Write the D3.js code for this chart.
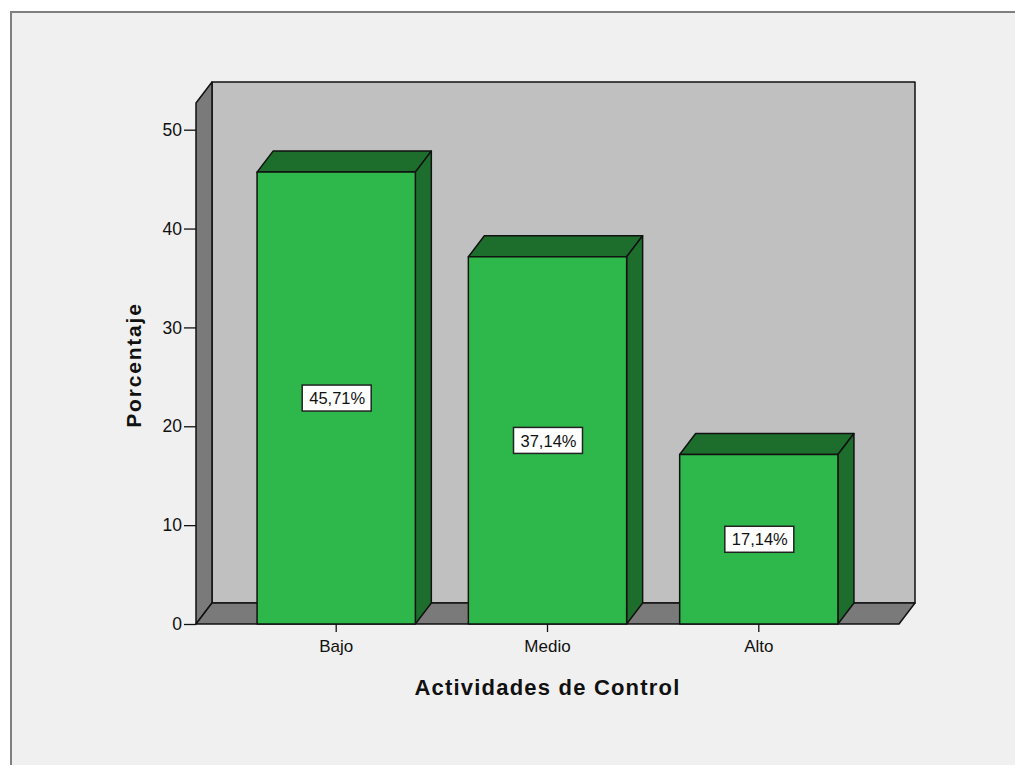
<!DOCTYPE html>
<html>
<head>
<meta charset="utf-8">
<script src="https://cdn.jsdelivr.net/npm/d3@7"></script>
<style>
  body { margin: 0; background: #ffffff; }
  svg text { font-family: "Liberation Sans", Arial, sans-serif; }
</style>
</head>
<body>
<div id="chart"></div>
<script>
// data
var categories = ["Bajo", "Medio", "Alto"];
var percents = [45.71, 37.14, 17.14];
var labels = ["45,71%", "37,14%", "17,14%"];
var yTicks = [0, 10, 20, 30, 40, 50];

var width = 1015, height = 765;
var depthX = 16, depthY = -21;   // 3d offset of the box

var svg = d3.select("#chart").append("svg")
    .attr("width", width)
    .attr("height", height);

// outer frame
svg.append("rect")
    .attr("x", 11).attr("y", 12)
    .attr("width", width + 20).attr("height", height + 20)
    .style("fill", "#f0f0f0")
    .style("stroke", "#7f7f7f")
    .style("stroke-width", 2);

var x = d3.scaleBand()
    .domain(categories)
    .range([196, 899])
    .paddingInner(0.251)
    .paddingOuter(0.289);

var y = d3.scaleLinear()
    .domain([0, 52.7])
    .range([624, 103]);

var x0 = x.range()[0], x1 = x.range()[1];
var yb = y(0), yt = y(y.domain()[1]);

function styled(sel, fill) {
  return sel.style("fill", fill)
    .style("stroke", "#111")
    .style("stroke-width", 1.5)
    .style("stroke-linejoin", "round");
}

// back wall
styled(svg.append("rect")
    .attr("x", x0 + depthX).attr("y", yt + depthY)
    .attr("width", x1 - x0).attr("height", yb - yt), "#c0c0c0");

// left side wall
styled(svg.append("path")
    .attr("d", d3.line()([[x0, yb], [x0, yt], [x0 + depthX, yt + depthY],
                          [x0 + depthX, yb + depthY]]) + "Z"), "#7a7a7a");

// floor
styled(svg.append("path")
    .attr("d", d3.line()([[x0, yb], [x1, yb], [x1 + depthX, yb + depthY],
                          [x0 + depthX, yb + depthY]]) + "Z"), "#7a7a7a");

// bars
var bars = svg.selectAll(".bar")
    .data(percents)
    .enter().append("g")
    .attr("class", "bar");

bars.each(function(d, i) {
  var g = d3.select(this);
  var bx = x(categories[i]), bw = x.bandwidth(), top = y(d);
  // top face
  styled(g.append("path")
      .attr("d", d3.line()([[bx, top], [bx + bw, top], [bx + bw + depthX, top + depthY],
                            [bx + depthX, top + depthY]]) + "Z"), "#1d6e2d");
  // side face
  styled(g.append("path")
      .attr("d", d3.line()([[bx + bw, top], [bx + bw, yb], [bx + bw + depthX, yb + depthY],
                            [bx + bw + depthX, top + depthY]]) + "Z"), "#1d6e2d");
  // front
  styled(g.append("rect")
      .attr("x", bx).attr("y", top)
      .attr("width", bw).attr("height", yb - top), "#2eb84b");
});

// value labels
var lab = svg.selectAll(".vlabel")
    .data(percents)
    .enter().append("g")
    .attr("class", "vlabel")
    .attr("transform", function(d, i) {
      return "translate(" + (x(categories[i]) + x.bandwidth() / 2) + "," + y(d / 2) + ")";
    });
lab.append("rect")
    .attr("x", -34).attr("y", -13)
    .attr("width", 69).attr("height", 26)
    .style("fill", "#fff")
    .style("stroke", "#222")
    .style("stroke-width", 1.5);
lab.append("text")
    .attr("text-anchor", "middle")
    .attr("dy", "0.37em")
    .attr("x", 1)
    .style("font-size", "16.5px")
    .style("fill", "#111")
    .text(function(d, i) { return labels[i]; });

// y axis
var yAxis = svg.append("g")
    .attr("transform", "translate(" + x0 + ",0)")
    .call(d3.axisLeft(y).tickValues(yTicks).tickSize(12).tickPadding(2).tickFormat(d3.format("d")));
yAxis.select(".domain").remove();
yAxis.selectAll(".tick line").style("stroke", "#111").style("stroke-width", 1.3);
yAxis.selectAll(".tick text")
    .style("font-family", "'Liberation Sans', Arial, sans-serif")
    .style("font-size", "17.5px").style("fill", "#111");

// x axis
var xAxis = svg.append("g")
    .attr("transform", "translate(0," + yb + ")")
    .call(d3.axisBottom(x).tickSize(8).tickPadding(8));
xAxis.select(".domain").remove();
xAxis.selectAll(".tick line").style("stroke", "#111").style("stroke-width", 1.3);
xAxis.selectAll(".tick text")
    .style("font-family", "'Liberation Sans', Arial, sans-serif")
    .style("font-size", "17px").style("fill", "#111");

// titles
svg.append("text")
    .attr("x", (x0 + x1) / 2).attr("y", 695)
    .attr("text-anchor", "middle")
    .style("font-size", "22px").style("font-weight", "bold")
    .style("letter-spacing", "1.2px").style("fill", "#111")
    .text("Actividades de Control");

svg.append("text")
    .attr("transform", "translate(141," + 365 + ") rotate(-90)")
    .attr("text-anchor", "middle")
    .style("font-size", "21px").style("font-weight", "bold")
    .style("letter-spacing", "1.8px").style("fill", "#111")
    .text("Porcentaje");
</script>
</body>
</html>
